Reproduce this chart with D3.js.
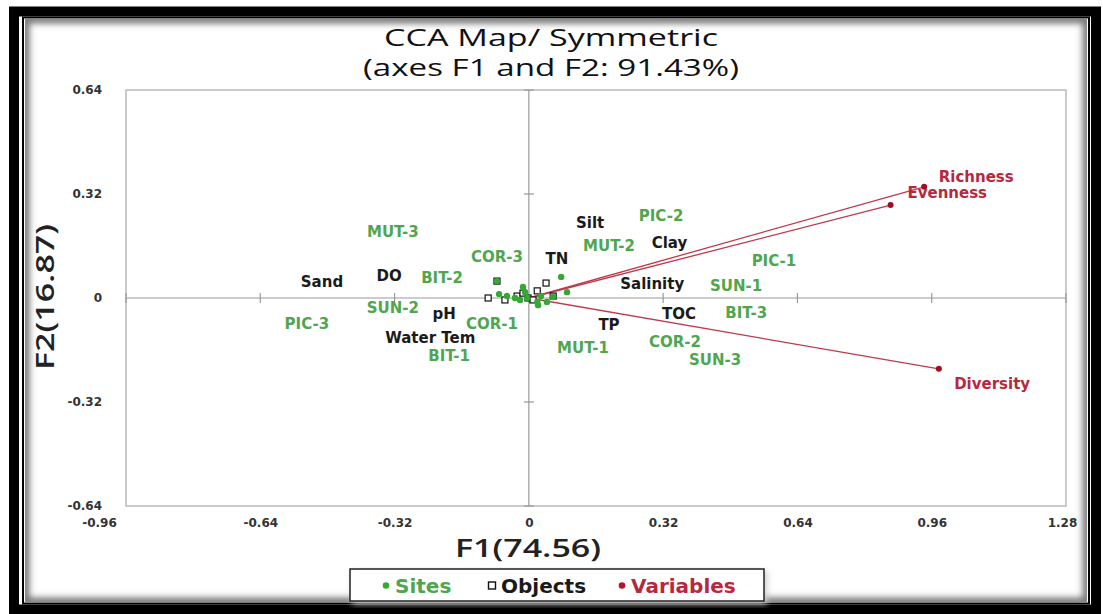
<!DOCTYPE html>
<html>
<head>
<meta charset="utf-8">
<script src="https://cdn.jsdelivr.net/npm/d3@7"></script>
<style>
    body { margin: 0; background: #fff; }
    svg { display: block; }
</style>
</head>
<body>
<svg id="canvas" width="1103" height="614"></svg>
<script>
const xTicks = [-0.96, -0.64, -0.32, 0, 0.32, 0.64, 0.96, 1.28]
const yTicks = [-0.64, -0.32, 0, 0.32, 0.64]

const siteNames = ["MUT-3", "COR-3", "BIT-2", "SUN-2", "PIC-3", "COR-1", "BIT-1", "PIC-2",
    "MUT-2", "PIC-1", "SUN-1", "BIT-3", "MUT-1", "COR-2", "SUN-3"]
const siteLabelX = [-0.324, -0.076, -0.207, -0.324, -0.529, -0.088, -0.190, 0.315,
    0.191, 0.584, 0.494, 0.518, 0.129, 0.348, 0.444]
const siteLabelY = [0.203, 0.126, 0.062, -0.031, -0.080, -0.080, -0.178, 0.255,
    0.160, 0.114, 0.037, -0.046, -0.154, -0.135, -0.188]
const sitePointX = [-0.076, -0.071, -0.052, -0.033, -0.021, -0.014, -0.009, -0.004,
    0.020, 0.022, 0.043, 0.058, 0.077, 0.091, 0.029]
const sitePointY = [0.052, 0.012, 0.006, 0.0, -0.006, 0.034, 0.018, 0.0,
    -0.012, -0.022, -0.012, 0.003, 0.065, 0.018, 0.006]

const objectNames = ["Sand", "DO", "pH", "Water Tem", "Silt", "Clay", "TN", "Salinity", "TOC", "TP"]
const objectLabelX = [-0.493, -0.333, -0.202, -0.235, 0.146, 0.335, 0.067, 0.294, 0.358, 0.191]
const objectLabelY = [0.049, 0.068, -0.049, -0.123, 0.231, 0.172, 0.120, 0.043, -0.049, -0.083]
const objectPointX = [-0.097, -0.076, -0.057, -0.028, -0.014, -0.002, 0.010, 0.020, 0.041, 0.058]
const objectPointY = [0.0, 0.052, -0.006, 0.006, 0.015, 0.0, -0.006, 0.022, 0.046, 0.006]

const variableNames = ["Richness", "Evenness", "Diversity"]
const variableX = [0.942, 0.862, 0.977]
const variableY = [0.342, 0.286, -0.218]
const variableLabelX = [1.066, 0.997, 1.104]
const variableLabelY = [0.375, 0.323, -0.262]

const legendNames = ["Sites", "Objects", "Variables"]

const green = "#4fa64f"
const red = "#b8283c"
const labelFont = "DejaVu Sans, sans-serif"

const canvas = d3.select("#canvas")

const xScale = d3.scaleLinear().domain([-0.96, 1.28]).range([126, 1066])
const yScale = d3.scaleLinear().domain([-0.64, 0.64]).range([506, 90])

const tickText = (d) => d === 0 ? "0" : d.toFixed(2)

// frame
const defs = canvas.append("defs")
defs.append("filter").attr("id", "blur")
    .append("feGaussianBlur").attr("stdDeviation", 3)
defs.append("clipPath").attr("id", "inner")
    .append("rect").attr("x", 25).attr("y", 19).attr("width", 1062).attr("height", 583)

canvas.append("rect")
    .attr("x", 14).attr("y", 11.5).attr("width", 1082).attr("height", 598)
    .attr("fill", "none").attr("stroke", "#000").attr("stroke-width", 10)
canvas.append("rect")
    .attr("x", 23).attr("y", 17.5).attr("width", 1066).attr("height", 586)
    .attr("fill", "#fff").attr("stroke", "#000").attr("stroke-width", 2)
canvas.append("g").attr("clip-path", "url(#inner)")
    .append("rect")
    .attr("x", 25).attr("y", 19).attr("width", 1062).attr("height", 583)
    .attr("fill", "none").attr("stroke", "#777").attr("stroke-width", 9)
    .attr("filter", "url(#blur)")

// title
const title = canvas.append("g")
    .attr("font-family", "Open Sans, sans-serif")
    .attr("fill", "#111")
    .attr("text-anchor", "middle")
title.append("text")
    .attr("x", 551).attr("y", 46)
    .attr("font-size", 24)
    .attr("textLength", 334).attr("lengthAdjust", "spacingAndGlyphs")
    .text("CCA Map/ Symmetric")
title.append("text")
    .attr("x", 551).attr("y", 76)
    .attr("font-size", 24)
    .attr("textLength", 376).attr("lengthAdjust", "spacingAndGlyphs")
    .text("(axes F1 and F2: 91.43%)")

// plot border and zero lines
canvas.append("rect")
    .attr("x", xScale(-0.96)).attr("y", yScale(0.64))
    .attr("width", xScale(1.28) - xScale(-0.96))
    .attr("height", yScale(-0.64) - yScale(0.64))
    .attr("fill", "none").attr("stroke", "#a8a8a8").attr("stroke-width", 1.2)

canvas.append("line")
    .attr("x1", xScale(-0.96)).attr("x2", xScale(1.28))
    .attr("y1", yScale(0)).attr("y2", yScale(0))
    .attr("stroke", "#999").attr("stroke-width", 1.2)
canvas.append("line")
    .attr("x1", xScale(0)).attr("x2", xScale(0))
    .attr("y1", yScale(0.64)).attr("y2", yScale(-0.64))
    .attr("stroke", "#999").attr("stroke-width", 1.2)

canvas.append("g").selectAll("line")
    .data(xTicks.filter((d) => d !== 0))
    .enter()
    .append("line")
    .attr("x1", (d) => xScale(d)).attr("x2", (d) => xScale(d))
    .attr("y1", yScale(0) - 5).attr("y2", yScale(0) + 5)
    .attr("stroke", "#999").attr("stroke-width", 1.2)
canvas.append("g").selectAll("line")
    .data(yTicks.filter((d) => d !== 0))
    .enter()
    .append("line")
    .attr("x1", xScale(0) - 5).attr("x2", xScale(0) + 5)
    .attr("y1", (d) => yScale(d)).attr("y2", (d) => yScale(d))
    .attr("stroke", "#999").attr("stroke-width", 1.2)

// tick labels
const xAxis = d3.axisBottom(xScale)
    .tickValues(xTicks)
    .tickSize(0)
    .tickPadding(12)
    .tickFormat(tickText)
const gx = canvas.append("g")
    .attr("transform", "translate(0," + yScale(-0.64) + ")")
    .call(xAxis)
gx.select(".domain").remove()
gx.selectAll("text")
    .attr("font-family", labelFont).attr("font-weight", "bold")
    .attr("font-size", 12).attr("fill", "#333")
    .attr("dx", (d) => d === -0.96 ? -27 : (d === 1.28 ? -4 : 0))

const yAxis = d3.axisLeft(yScale)
    .tickValues(yTicks)
    .tickSize(0)
    .tickPadding(24)
    .tickFormat(tickText)
const gy = canvas.append("g")
    .attr("transform", "translate(" + xScale(-0.96) + ",0)")
    .call(yAxis)
gy.select(".domain").remove()
gy.selectAll("text")
    .attr("font-family", labelFont).attr("font-weight", "bold")
    .attr("font-size", 12).attr("fill", "#333")

// axis titles
canvas.append("text")
    .attr("x", 528).attr("y", 557)
    .attr("text-anchor", "middle")
    .attr("font-family", "Open Sans, sans-serif").attr("font-weight", 600)
    .attr("font-size", 25).attr("fill", "#222")
    .attr("textLength", 146).attr("lengthAdjust", "spacingAndGlyphs")
    .text("F1(74.56)")
canvas.append("text")
    .attr("transform", "translate(54,297) rotate(-90)")
    .attr("text-anchor", "middle")
    .attr("font-family", "Open Sans, sans-serif").attr("font-weight", 600)
    .attr("font-size", 25).attr("fill", "#222")
    .attr("textLength", 146).attr("lengthAdjust", "spacingAndGlyphs")
    .text("F2(16.87)")

// variable vectors
canvas.append("g").selectAll("line")
    .data(variableNames)
    .enter()
    .append("line")
    .attr("x1", xScale(0)).attr("y1", yScale(0))
    .attr("x2", (d, i) => xScale(variableX[i]))
    .attr("y2", (d, i) => yScale(variableY[i]))
    .attr("stroke", "#c0394a").attr("stroke-width", 1.3)

// objects
canvas.append("g").selectAll("rect")
    .data(objectPointX)
    .enter()
    .append("rect")
    .attr("x", (d) => xScale(d) - 3)
    .attr("y", (d, i) => yScale(objectPointY[i]) - 3)
    .attr("width", 6).attr("height", 6)
    .attr("fill", "#fff").attr("stroke", "#111").attr("stroke-width", 1.2)

// sites
canvas.append("g").selectAll("circle")
    .data(sitePointX)
    .enter()
    .append("circle")
    .attr("cx", (d) => xScale(d))
    .attr("cy", (d, i) => yScale(sitePointY[i]))
    .attr("r", 3.2)
    .attr("fill", "#35a835")

canvas.append("g").selectAll("circle")
    .data(variableNames)
    .enter()
    .append("circle")
    .attr("cx", (d, i) => xScale(variableX[i]))
    .attr("cy", (d, i) => yScale(variableY[i]))
    .attr("r", 3)
    .attr("fill", "#9a1020")

// labels
const drawLabels = (names, lx, ly, color) => {
    canvas.append("g").selectAll("text")
        .data(names)
        .enter()
        .append("text")
        .attr("x", (d, i) => xScale(lx[i]))
        .attr("y", (d, i) => yScale(ly[i]))
        .attr("dy", "0.36em")
        .attr("text-anchor", "middle")
        .attr("font-family", labelFont).attr("font-weight", "bold")
        .attr("font-size", 15).attr("fill", color)
        .text((d) => d)
}
drawLabels(siteNames, siteLabelX, siteLabelY, green)
drawLabels(objectNames, objectLabelX, objectLabelY, "#1a1a1a")
drawLabels(variableNames, variableLabelX, variableLabelY, red)

// legend
const legend = canvas.append("g")
legend.append("rect")
    .attr("x", 352).attr("y", 571).attr("width", 415).attr("height", 33)
    .attr("fill", "#ccc").attr("filter", "url(#blur)")
legend.append("rect")
    .attr("x", 350).attr("y", 569).attr("width", 414).attr("height", 32)
    .attr("fill", "#fff").attr("stroke", "#222").attr("stroke-width", 1.5)

const legendX = [386, 492, 622]
const legendColors = [green, "#1a1a1a", red]
legendNames.forEach((name, i) => {
    if (i === 1) {
        legend.append("rect")
            .attr("x", legendX[i] - 3.5).attr("y", 582).attr("width", 7).attr("height", 7)
            .attr("fill", "#fff").attr("stroke", "#111").attr("stroke-width", 1.4)
    } else {
        legend.append("circle")
            .attr("cx", legendX[i]).attr("cy", 585.5).attr("r", 3.3)
            .attr("fill", i === 0 ? "#35a835" : "#b01828")
    }
    legend.append("text")
        .attr("x", legendX[i] + 9).attr("y", 593)
        .attr("font-family", labelFont).attr("font-weight", "bold")
        .attr("font-size", 20).attr("fill", legendColors[i])
        .text(name)
})
</script>
</body>
</html>
